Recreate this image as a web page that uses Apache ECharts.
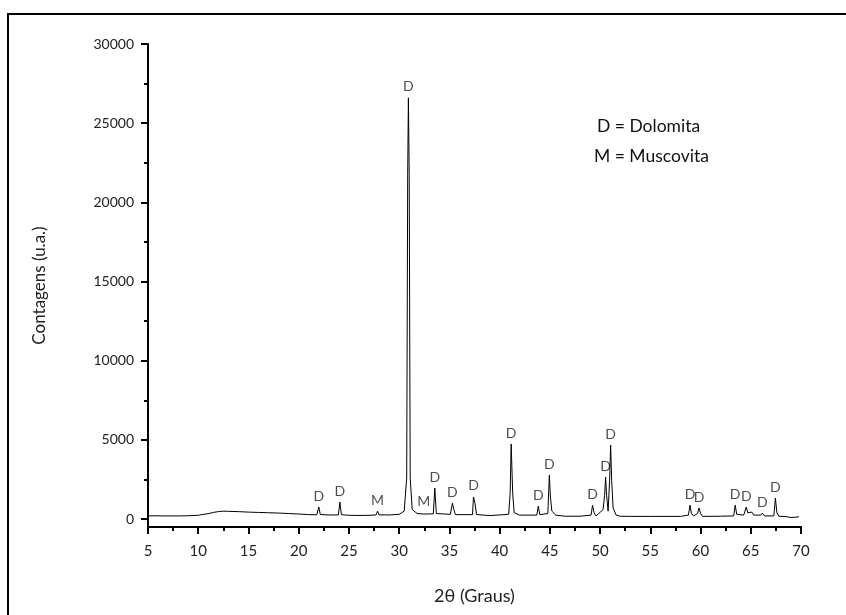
<!DOCTYPE html>
<html>
<head>
<meta charset="utf-8">
<script src="https://cdn.jsdelivr.net/npm/echarts@6/dist/echarts.min.js"></script>
<style>
  html, body { margin: 0; padding: 0; background: #fff; }
  #chart { width: 846px; height: 615px; }
</style>
</head>
<body>
<div id="chart"></div>
<script>
// difratograma: 2theta x contagens
var twoTheta = [5.0, 6.0, 6.1, 6.2, 8.0, 9.0, 10.0, 10.5, 11.0, 11.5, 12.0, 12.5, 13.0, 14.0, 15.0, 16.0, 17.0, 18.0, 19.0, 20.0, 21.0,
  21.8, 22.0, 22.15, 23.0, 23.95, 24.1, 24.25, 25.0, 26.0, 27.0, 27.7, 27.85, 28.0, 29.0, 30.0, 30.5, 30.75, 30.85, 30.92, 31.0, 31.1,
  31.3, 31.8, 32.4, 32.5, 32.6, 33.4, 33.55, 33.7, 35.1, 35.3, 35.45, 35.6, 37.3, 37.4, 37.55, 37.7, 39.0, 40.9, 41.05, 41.15, 41.3,
  41.45, 42.0, 43.7, 43.85, 44.0, 44.8, 44.95, 45.05, 45.2, 45.6, 46.5, 48.0, 49.1, 49.25, 49.4, 49.6, 50.3, 50.45, 50.55, 50.65,
  50.8, 50.95, 51.05, 51.15, 51.3, 51.6, 52.0, 53.0, 55.0, 58.0, 58.8, 58.95, 59.1, 59.3, 59.7, 59.85, 60.0, 60.2, 62.0, 63.3, 63.45,
  63.6, 64.3, 64.55, 64.7, 65.1, 65.3, 66.0, 66.15, 66.35, 67.3, 67.45, 67.6, 67.8, 68.5, 69.0, 69.5, 69.8];
var counts = [200, 210, 260, 200, 200, 210, 240, 300, 340, 420, 470, 500, 490, 470, 440, 420, 400, 380, 350, 320, 280,
  270, 760, 290, 260, 260, 1070, 280, 240, 230, 240, 260, 500, 270, 260, 300, 500, 2600, 21800, 26600, 21800, 2600,
  600, 350, 320, 420, 320, 330, 1960, 350, 300, 1000, 600, 280, 280, 1400, 1000, 290, 220, 300, 1640, 4740, 1640,
  400, 250, 250, 820, 280, 350, 2780, 1450, 500, 250, 180, 180, 250, 880, 400, 200, 600, 1500, 2650, 1500,
  500, 2460, 4670, 2460, 700, 250, 180, 170, 170, 170, 250, 880, 350, 200, 350, 700, 350, 170, 180, 200, 880,
  300, 250, 760, 400, 440, 250, 250, 380, 200, 200, 1330, 400, 180, 160, 100, 120, 150];

// identificacao dos picos
var peakX = [22.0, 24.1, 27.85, 30.92, 32.45, 33.55, 35.3, 37.4, 41.15, 43.85, 44.95, 49.25, 50.55, 51.05, 58.95, 59.85, 63.45, 64.55, 66.15, 67.45];
var peakY = [760, 1070, 500, 26600, 420, 1960, 1000, 1400, 4740, 820, 2780, 880, 2650, 4670, 880, 700, 880, 760, 380, 1330];
var peakText = ['D', 'D', 'M', 'D', 'M', 'D', 'D', 'D', 'D', 'D', 'D', 'D', 'D', 'D', 'D', 'D', 'D', 'D', 'D', 'D'];

var yMajor = [0, 5000, 10000, 15000, 20000, 25000, 30000];
var yMinor = [2500, 7500, 12500, 17500, 22500, 27500];

var legendLines = ['D = Dolomita', 'M = Muscovita'];

var font = 'Lato, "Open Sans", sans-serif';
var lineData = twoTheta.map(function (x, i) { return [x, counts[i]]; });
var peakData = peakX.map(function (x, i) { return { value: [x, peakY[i]], label: { formatter: peakText[i] } }; });

var myChart = echarts.init(document.getElementById('chart'));
var option = {
  backgroundColor: '#fff',
  animation: false,
  grid: { left: 148, right: 45, top: 44, bottom: 88 },
  xAxis: {
    type: 'value',
    min: 5,
    max: 70,
    interval: 5,
    name: '2θ (Graus)',
    nameLocation: 'middle',
    nameGap: 60,
    nameTextStyle: { fontFamily: font, fontSize: 18, color: '#222' },
    axisLine: { onZero: false, lineStyle: { color: '#000', width: 2 } },
    axisTick: { length: 7, lineStyle: { color: '#000', width: 2 } },
    minorTick: { show: true, splitNumber: 2, length: 4, lineStyle: { color: '#000', width: 2 } },
    axisLabel: { fontFamily: font, fontSize: 15, color: '#222', margin: 17 },
    splitLine: { show: false }
  },
  yAxis: [
    {
      type: 'value',
      min: -500,
      max: 30000,
      name: 'Contagens (u.a.)',
      nameLocation: 'middle',
      nameGap: 100,
      nameTextStyle: { fontFamily: font, fontSize: 17, color: '#222' },
      axisLine: { show: true, onZero: false, lineStyle: { color: '#000', width: 2 } },
      axisTick: { show: true, length: 7, customValues: yMajor, lineStyle: { color: '#000', width: 2 } },
      axisLabel: {
        customValues: yMajor,
        formatter: function (v) { return String(v); },
        fontFamily: font, fontSize: 14, color: '#222', margin: 14
      },
      splitLine: { show: false }
    },
    {
      type: 'value',
      position: 'left',
      min: -500,
      max: 30000,
      axisLine: { show: false },
      axisTick: { show: true, length: 4, customValues: yMinor, lineStyle: { color: '#000', width: 2 } },
      axisLabel: { show: false },
      splitLine: { show: false }
    }
  ],
  series: [
    {
      type: 'line',
      data: lineData,
      showSymbol: false,
      lineStyle: { color: '#000', width: 1 },
      silent: true
    },
    {
      type: 'scatter',
      data: peakData,
      symbolSize: 0,
      label: {
        show: true,
        position: 'top',
        distance: 4,
        fontFamily: font,
        fontSize: 14,
        color: '#222'
      },
      silent: true
    }
  ],
  graphic: [
    {
      type: 'rect',
      shape: { x: 8, y: 14, width: 1000, height: 1000 },
      style: { fill: 'none', stroke: '#000', lineWidth: 2 }
    },
    {
      type: 'text',
      left: 597,
      top: 117,
      style: { text: legendLines[0], fontFamily: font, fontSize: 17.5, fill: '#111' }
    },
    {
      type: 'text',
      left: 594,
      top: 147,
      style: { text: legendLines[1], fontFamily: font, fontSize: 17.5, fill: '#111' }
    }
  ]
};
option && myChart.setOption(option);
</script>
</body>
</html>
